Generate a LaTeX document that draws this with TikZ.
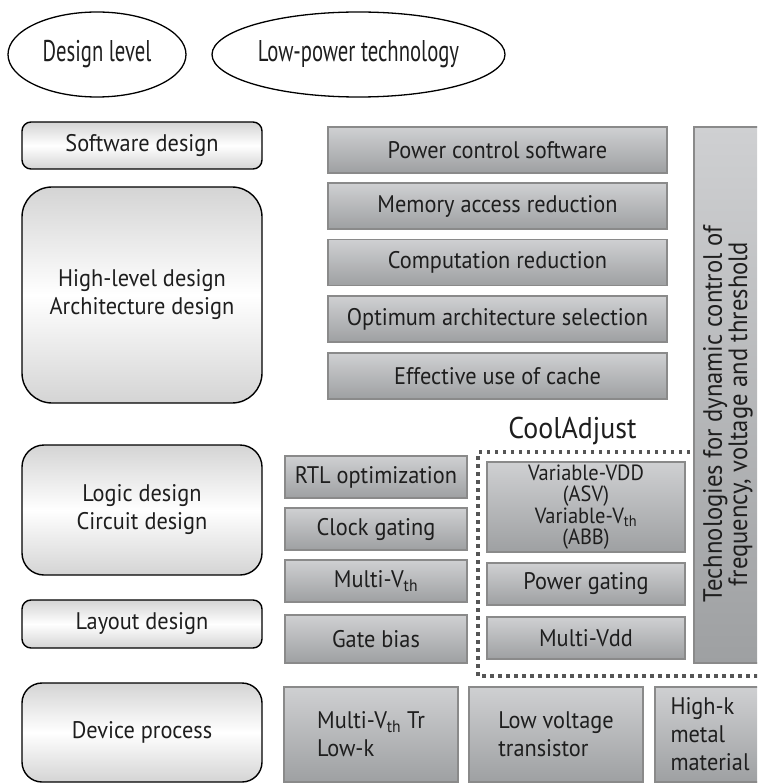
\documentclass[tikz,border=0pt]{standalone}
\usepackage{fontspec}
\setmainfont{PT Sans}[FakeStretch=0.93]
\newfontfamily\ovalfamily{PT Sans}[FakeStretch=0.69]
\usetikzlibrary{shapes.geometric}

\definecolor{inkgray}{HTML}{1E1E1E}
\definecolor{lvshade}{HTML}{D4D4D4}
\definecolor{techtop}{HTML}{CFD0D2}
\definecolor{techbottom}{HTML}{9EA0A2}
\definecolor{techedge}{HTML}{8A8A8A}
\definecolor{dotgray}{HTML}{555555}

\newcommand\boxfont{\fontsize{24}{28}\selectfont}
\newcommand\tightfont{\fontsize{22}{21.5}\selectfont}
\newcommand\sidefont{\fontsize{26.5}{23}\selectfont}
\newcommand\ovalfont{\ovalfamily\fontsize{30}{34}\selectfont}
\newcommand\coolfont{\fontsize{30}{34}\selectfont}

\tikzset{
  headoval/.style={ellipse, draw=black, line width=1.3pt, inner sep=0pt,
    font=\ovalfont, text=inkgray},
  levelbox/.style={draw=black, line width=1.4pt, top color=lvshade,
    bottom color=lvshade, middle color=white, minimum width=240pt,
    inner sep=0pt, font=\boxfont, text=inkgray, align=center},
  techbox/.style={draw=techedge, line width=1.4pt, top color=techtop,
    bottom color=techbottom, inner sep=0pt, font=\boxfont, text=inkgray,
    align=center},
  coolframe/.style={draw=dotgray, line width=3.5pt,
    dash pattern=on 3.5pt off 4.5pt}
}

\begin{document}
\begin{tikzpicture}[x=1pt, y=-1pt]
    % picture is 757 x 783, y runs downwards
    \clip (0,0) rectangle (757,783);

    % 1. Header ellipses
    \node[headoval, minimum width=178pt, minimum height=85pt] (levelhead) at (97,54.5) {Design level};
    \node[headoval, minimum width=293pt, minimum height=85pt] (techhead) at (358.5,54.5) {Low-power technology};

    % 2. Design levels (left column)
    \node[levelbox, rounded corners=9pt, minimum height=47pt] (software) at (142,145.5) {Software design};
    \node[levelbox, rounded corners=30pt, minimum height=216pt] (highlevel) at (142,295) {High-level design\\Architecture design};
    \node[levelbox, rounded corners=22pt, minimum height=130pt] (logic) at (142,510) {Logic design\\Circuit design};
    \node[levelbox, rounded corners=9pt, minimum height=48pt] (layout) at (142,624) {Layout design};
    \node[levelbox, rounded corners=20pt, minimum height=99pt] (device) at (142,732.5) {Device process};

    % 3. Software and architecture techniques
    \node[techbox, minimum width=339pt, minimum height=46pt] (powerctl) at (497.5,150) {Power control software};
    \node[techbox, minimum width=339pt, minimum height=46pt] (memacc) at (497.5,206) {Memory access reduction};
    \node[techbox, minimum width=339pt, minimum height=46pt] (comp) at (497.5,262.5) {Computation reduction};
    \node[techbox, minimum width=339pt, minimum height=46pt] (optarch) at (497.5,319) {Optimum architecture selection};
    \node[techbox, minimum width=339pt, minimum height=46pt] (cache) at (497.5,376) {Effective use of cache};

    % 4. Dynamic control column (runs off the right edge)
    \node[techbox, minimum width=92pt, minimum height=536pt] (dynctl) at (740,395) {};
    \node[rotate=90, font=\sidefont, text=inkgray, align=center, inner sep=0pt] (dyntext) at (728,414)
        {Technologies for dynamic control of\\frequency, voltage and threshold};

    % 5. Logic / circuit / layout techniques
    \node[techbox, minimum width=182pt, minimum height=42pt] (rtl) at (376,477) {RTL optimization};
    \node[techbox, minimum width=182pt, minimum height=42pt] (clock) at (376,529) {Clock gating};
    \node[techbox, minimum width=182pt, minimum height=42pt] (mvth) at (376,581) {Multi-V\textsubscript{th}};
    \node[techbox, minimum width=182pt, minimum height=48pt] (gatebias) at (376,639) {Gate bias};

    % 6. CoolAdjust group with dotted frame
    \node[font=\coolfont, text=inkgray, anchor=base, inner sep=0pt] (cooltitle) at (572.5,438) {CoolAdjust};
    \node[techbox, minimum width=198pt, minimum height=90pt, font=\tightfont] (varvdd) at (586,507)
        {Variable-VDD\\(ASV)\\Variable-V\textsubscript{th}\\(ABB)};
    \node[techbox, minimum width=198pt, minimum height=42pt] (pgate) at (586,584) {Power gating};
    \node[techbox, minimum width=198pt, minimum height=42pt] (mvdd) at (586,638) {Multi-Vdd};

    \coordinate (frameTR) at (690,452);
    \coordinate (frameTL) at (478,452);
    \coordinate (frameBL) at (478,676);
    \coordinate (frameBR) at (770,676);
    \draw[coolframe] (frameTR) -- (frameTL) -- (frameBL) -- (frameBR);

    % 7. Device techniques (bottom row)
    \node[techbox, minimum width=174pt, minimum height=95pt, align=left] (mvthtr) at (371,734.5) {Multi-V\textsubscript{th} Tr\\Low-k};
    \node[techbox, minimum width=174pt, minimum height=95pt, align=left] (lowvolt) at (556,734.5) {Low voltage\\transistor};
    \node[techbox, minimum width=110pt, minimum height=95pt, align=left] (highk) at (710,734.5) {High-k\\metal\\material};

\end{tikzpicture}
\end{document}
